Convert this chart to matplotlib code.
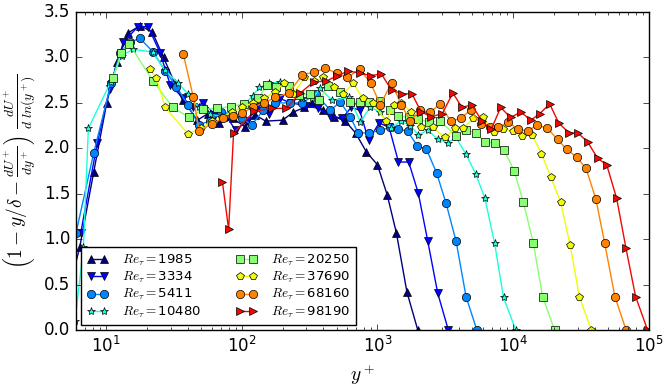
import numpy as np
import matplotlib
matplotlib.use('Agg')
import matplotlib.pyplot as plt
plt.style.use('classic')

# Re_tau values of the curves
re_tau = [1985, 3334, 5411, 10480, 20250, 37690, 68160, 98190]
markers = ['^', 'v', 'o', '*', 's', 'p', 'o', '>']

yp_1985 = [5.6, 6.4, 8.1, 10.1, 12.0, 14.5, 17.8, 21.9, 26.5, 32, 37, 47, 56, 68, 86, 105, 125, 150,
           200, 240, 290, 330, 400, 480, 580, 690, 830, 1000, 1180, 1380, 1650, 1985]
v_1985 = [0.57, 0.92, 1.74, 2.50, 2.95, 3.27, 3.35, 3.28, 3.00, 2.72, 2.53, 2.31, 2.38, 2.28, 2.33, 2.24, 2.37, 2.30,
          2.31, 2.40, 2.45, 2.50, 2.42, 2.35, 2.30, 2.17, 1.96, 1.82, 1.49, 1.07, 0.42, 0.0]

yp_3334 = [6.5, 8.6, 10.6, 13.4, 17.2, 20.4, 25, 29.7, 37, 44, 52, 64, 78, 90, 110, 130, 160, 190, 230,
           300, 365, 450, 550, 640, 740, 860, 1030, 1220, 1430, 1700, 2000, 2350, 2780, 3334]
v_3334 = [1.07, 2.06, 2.65, 3.17, 3.34, 3.34, 3.05, 2.70, 2.55, 2.45, 2.50, 2.37, 2.34, 2.20, 2.30, 2.45, 2.38, 2.55, 2.50,
          2.47, 2.44, 2.36, 2.33, 2.45, 2.42, 2.09, 2.28, 2.23, 1.85, 1.85, 1.51, 0.98, 0.41, 0.0]

yp_5411 = [6.0, 8.1, 10.9, 12.7, 15, 17.8, 22.2, 27.3, 33, 40, 48, 58, 70, 85, 100, 119, 144, 175, 228,
           280, 350, 450, 533, 630, 720, 870, 1050, 1240, 1430, 1670, 1960, 2300, 2730, 3200, 3800, 4500, 5411]
v_5411 = [1.07, 1.95, 2.72, 3.05, 3.17, 3.21, 3.06, 2.85, 2.68, 2.48, 2.26, 2.30, 2.40, 2.38, 2.33, 2.26, 2.42, 2.50, 2.50,
          2.50, 2.60, 2.42, 2.51, 2.35, 2.17, 2.17, 2.20, 2.23, 2.21, 2.19, 2.03, 1.99, 1.73, 1.40, 0.98, 0.37, 0.0]

yp_10480 = [5.9, 6.8, 7.4, 10.8, 13.0, 15.8, 22, 27, 34, 40, 48, 58, 70, 85, 100, 120, 135, 160, 190, 230,
            280, 330, 380, 460, 620, 750, 880, 1050, 1250, 1480, 1750, 2000, 2350, 2780, 3300, 3800,
            4480, 5300, 6200, 7300, 8500, 10480]
v_10480 = [0.1, 0.91, 2.22, 2.73, 3.02, 3.09, 3.06, 2.86, 2.72, 2.60, 2.45, 2.38, 2.35, 2.40, 2.45, 2.58, 2.67, 2.72, 2.73, 2.62,
           2.55, 2.55, 2.66, 2.53, 2.56, 2.29, 2.45, 2.40, 2.22, 2.30, 2.25, 2.15, 2.20, 2.10, 2.06, 2.12,
           1.94, 1.72, 1.45, 0.96, 0.36, 0.0]

yp_20250 = [11.3, 12.9, 14.8, 22.2, 31, 41, 52, 66, 83, 103, 132, 154, 180, 222, 265, 320, 372, 435, 533,
            632, 745, 870, 1040, 1240, 1430, 1700, 2000, 2380, 2900, 3800, 4500, 5300, 6200, 7300, 8600,
            10200, 11900, 14100, 16500, 20250]
v_20250 = [2.77, 3.05, 3.15, 2.74, 2.45, 2.34, 2.43, 2.44, 2.46, 2.49, 2.55, 2.70, 2.68, 2.69, 2.59, 2.60, 2.53, 2.69, 2.62,
           2.51, 2.51, 2.51, 2.52, 2.42, 2.36, 2.34, 2.32, 2.29, 2.30, 2.14, 2.20, 2.17, 2.07, 2.06, 1.98,
           1.75, 1.41, 0.96, 0.37, 0.0]

yp_37690 = [21, 23.5, 27.3, 40, 50, 60, 72, 85, 100, 120, 145, 175, 205, 240, 290, 340, 400, 480, 560, 660,
            780, 920, 1160, 1330, 1500, 1780, 2100, 2550, 3170, 3700, 4300, 5100, 6000, 7180, 8480, 10000,
            11700, 13800, 16200, 19000, 22400, 26300, 30800, 37690]
v_37690 = [2.87, 2.77, 2.45, 2.16, 2.22, 2.30, 2.34, 2.40, 2.45, 2.50, 2.55, 2.62, 2.72, 2.60, 2.78, 2.74, 2.78, 2.68, 2.60, 2.72,
           2.55, 2.50, 2.30, 2.48, 2.50, 2.40, 2.23, 2.23, 2.12, 2.22, 2.22, 2.33, 2.35, 2.18, 2.21, 2.19,
           2.14, 2.15, 1.94, 1.68, 1.41, 0.94, 0.37, 0.0]

yp_68160 = [37, 44, 48.5, 60, 73, 86, 101, 120, 145, 177, 222, 280, 343, 412, 500, 600, 740, 890, 1050, 1270,
            1500, 1750, 2070, 2460, 2900, 3460, 4100, 4860, 5760, 6800, 7800, 9200, 10900, 12900, 15000,
            17900, 21300, 24800, 29600, 34500, 40800, 47300, 56300, 68160]
v_68160 = [3.04, 2.56, 2.19, 2.27, 2.33, 2.36, 2.39, 2.45, 2.50, 2.56, 2.61, 2.81, 2.84, 2.88, 2.83, 2.78, 2.87, 2.72, 2.48, 2.72,
           2.48, 2.30, 2.42, 2.40, 2.49, 2.30, 2.33, 2.42, 2.27, 2.23, 2.23, 2.29, 2.21, 2.19, 2.26,
           2.22, 2.10, 1.99, 1.90, 1.78, 1.44, 0.96, 0.37, 0.0]

yp_98190 = [72, 80, 87, 124, 168, 213, 270, 338, 420, 505, 610, 740, 890, 1070, 1270, 1530, 1800, 2100, 2500,
            3000, 3600, 4200, 4960, 5900, 6900, 8100, 9580, 11400, 13500, 15700, 18600, 21700, 25800,
            30000, 35500, 42000, 49000, 58000, 68000, 80000, 98190]
v_98190 = [1.63, 1.11, 2.17, 2.41, 2.44, 2.44, 2.61, 2.73, 2.74, 2.80, 2.85, 2.83, 2.80, 2.82, 2.64, 2.60, 2.60, 2.40, 2.35,
           2.38, 2.61, 2.45, 2.48, 2.30, 2.21, 2.45, 2.34, 2.40, 2.31, 2.38, 2.49, 2.28, 2.17,
           2.17, 2.07, 1.89, 1.82, 1.45, 0.90, 0.37, 0.0]

yplus = [yp_1985, yp_3334, yp_5411, yp_10480, yp_20250, yp_37690, yp_68160, yp_98190]
vals = [v_1985, v_3334, v_5411, v_10480, v_20250, v_37690, v_68160, v_98190]

plt.rcParams['mathtext.fontset'] = 'cm'
colors = plt.cm.jet(np.linspace(0, 0.9, len(re_tau)))

fig = plt.figure(figsize=(6.64, 3.88), dpi=100, facecolor='w')
ax = fig.add_subplot(111)
fig.subplots_adjust(left=0.1145, right=0.977, bottom=0.149, top=0.969)

for re, yp, v, m, c in zip(re_tau, yplus, vals, markers, colors):
    ax.semilogx(yp, v, marker=m, color=c, mfc=c, mec='k', mew=0.5, ms=6, lw=1.0,
                label=r'$Re_{\tau}=$' + str(re))

ax.set_xlim(6, 1e5)
ax.set_ylim(0, 3.5)
ax.set_yticks(np.arange(0, 3.51, 0.5))
ax.set_xlabel(r'$y^+$', fontsize=14)
ax.set_ylabel(r'$\left(1-y/\delta-\frac{dU^+}{dy^+}\right)\ \frac{dU^+}{d\ ln(y^+)}$', fontsize=14)
ax.legend(loc='lower left', ncol=2, fontsize=9.5, numpoints=2, handlelength=1.6,
          handletextpad=1.1, borderaxespad=0.4, labelspacing=0.15, columnspacing=2.6)

fig.savefig('out.png', dpi=100, facecolor='w')
